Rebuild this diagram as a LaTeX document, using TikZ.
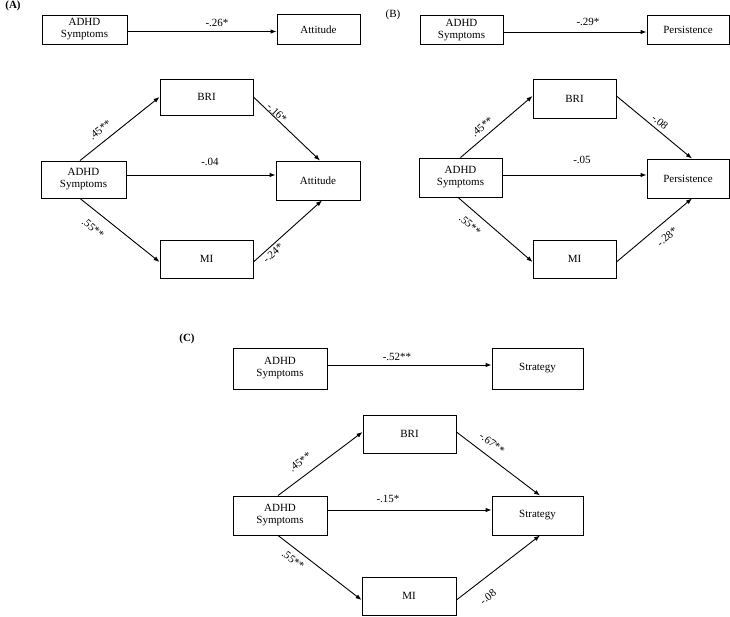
\documentclass[tikz,border=0pt]{standalone}
\usepackage{fontspec}
\setmainfont{Liberation Serif}
\usetikzlibrary{arrows.meta}
\begin{document}
\begin{tikzpicture}[x=1pt,y=-1pt,
  box/.style={draw, line width=0.9pt, inner sep=0pt, align=center, font=\fontsize{11}{12}\selectfont},
  arr/.style={line width=0.9pt, -{Latex[length=6pt,width=4.5pt]}},
  lbl/.style={inner sep=0pt, font=\fontsize{11}{12}\selectfont},
  tagb/.style={inner sep=0pt, font=\fontsize{11}{12}\selectfont\bfseries},
  tagr/.style={inner sep=0pt, font=\fontsize{11}{12}\selectfont}]
\useasboundingbox (0,0) rectangle (730,617);

% ---------- Panel A ----------
\node[tagb] (tA) at (13,6) {(A)};
\node[box, minimum width=85pt, minimum height=29pt] (aX0) at (84.5,29.5) {ADHD\\Symptoms};
\node[box, minimum width=83pt, minimum height=30pt] (aY0) at (318.5,29.5) {Attitude};
\draw[arr] ([yshift=-2pt]aX0.east) -- ([yshift=-2pt]aY0.west);
\node[lbl] (la0) at (217,23) {-.26*};

\node[box, minimum width=93pt, minimum height=36pt] (aB) at (206.5,97) {BRI};
\node[box, minimum width=85pt, minimum height=37pt] (aX) at (83.5,179.5) {ADHD\\Symptoms};
\node[box, minimum width=84pt, minimum height=39pt] (aY) at (318,180.5) {Attitude};
\node[box, minimum width=93pt, minimum height=38pt] (aM) at (206.5,259) {MI};
\draw[arr] ([xshift=-3.5pt]aX.north) -- (aB.west);
\draw[arr] (aB.east) -- ([xshift=2pt]aY.north);
\draw[arr] ([yshift=4.5pt]aX.east) -- ([yshift=5.5pt]aY.west);
\draw[arr] ([xshift=-3.5pt]aX.south) -- ([yshift=-3pt]aM.west);
\draw[arr] ([yshift=-3pt]aM.east) -- ([xshift=4pt]aY.south);
\node[lbl, rotate=38.7] (la1) at (100,130) {.45**};
\node[lbl, rotate=-43.7] (la2) at (277,113) {-.16*};
\node[lbl] (la3) at (210,162) {-.04};
\node[lbl, rotate=-38.7] (la4) at (93,228) {.55**};
\node[lbl, rotate=41.9] (la5) at (273,253) {-.24*};

% ---------- Panel B ----------
\node[tagr] (tB) at (393,15) {(B)};
\node[box, minimum width=83pt, minimum height=29pt] (bX0) at (461.5,30) {ADHD\\Symptoms};
\node[box, minimum width=82pt, minimum height=29pt] (bY0) at (688,30) {Persistence};
\draw[arr] ([yshift=-2pt]bX0.east) -- ([yshift=-2pt]bY0.west);
\node[lbl] (lb0) at (588,22) {-.29*};

\node[box, minimum width=83pt, minimum height=39pt] (bB) at (574.5,98.5) {BRI};
\node[box, minimum width=83pt, minimum height=39pt] (bX) at (460.5,177.5) {ADHD\\Symptoms};
\node[box, minimum width=82pt, minimum height=39pt] (bY) at (688,178.5) {Persistence};
\node[box, minimum width=83pt, minimum height=38pt] (bM) at (574.5,259) {MI};
\draw[arr] (bX.north) -- ([yshift=2.5pt]bB.west);
\draw[arr] ([yshift=2.5pt]bB.east) -- ([xshift=4pt]bY.north);
\draw[arr] ([yshift=2.5pt]bX.east) -- ([yshift=3.5pt]bY.west);
\draw[arr] ([xshift=-2.5pt]bX.south) -- ([yshift=-3pt]bM.west);
\draw[arr] ([yshift=-3pt]bM.east) -- ([xshift=4pt]bY.south);
\node[lbl, rotate=40.3] (lb1) at (482,127) {.45**};
\node[lbl, rotate=-39.7] (lb2) at (660,122) {-.08};
\node[lbl] (lb3) at (582,160) {-.05};
\node[lbl, rotate=-40.9] (lb4) at (470,225) {.55**};
\node[lbl, rotate=40.1] (lb5) at (667,237) {-.28*};

% ---------- Panel C ----------
\node[tagb] (tC) at (187,339) {(C)};
\node[box, minimum width=94pt, minimum height=41pt] (cX0) at (280,368.5) {ADHD\\Symptoms};
\node[box, minimum width=91pt, minimum height=41pt] (cY0) at (537.5,368.5) {Strategy};
\draw[arr] ([yshift=3.5pt]cX0.east) -- ([yshift=3.5pt]cY0.west);
\node[lbl] (lc0) at (397,357) {-.52**};

\node[box, minimum width=93pt, minimum height=38pt] (cB) at (409.5,434) {BRI};
\node[box, minimum width=94pt, minimum height=39pt] (cX) at (280,515.5) {ADHD\\Symptoms};
\node[box, minimum width=91pt, minimum height=39pt] (cY) at (537.5,515.5) {Strategy};
\node[box, minimum width=94pt, minimum height=38pt] (cM) at (409,596) {MI};
\draw[arr] ([xshift=-2pt]cX.north) -- ([yshift=2pt]cB.west);
\draw[arr] ([yshift=2pt]cB.east) -- ([xshift=2.5pt]cY.north);
\draw[arr] ([yshift=5.5pt]cX.east) -- ([yshift=5.5pt]cY.west);
\draw[arr] ([xshift=-2pt]cX.south) -- ([yshift=-4pt]cM.west);
\draw[arr] ([yshift=-4pt]cM.east) -- ([xshift=2.5pt]cY.south);
\node[lbl, rotate=37] (lc1) at (300,462) {.45**};
\node[lbl, rotate=-37.3] (lc2) at (492,443) {-.67**};
\node[lbl] (lc3) at (388,499) {-.15*};
\node[lbl, rotate=-37.7] (lc4) at (293,560) {.55**};
\node[lbl, rotate=37.7] (lc5) at (488,597) {-.08};
\end{tikzpicture}
\end{document}
